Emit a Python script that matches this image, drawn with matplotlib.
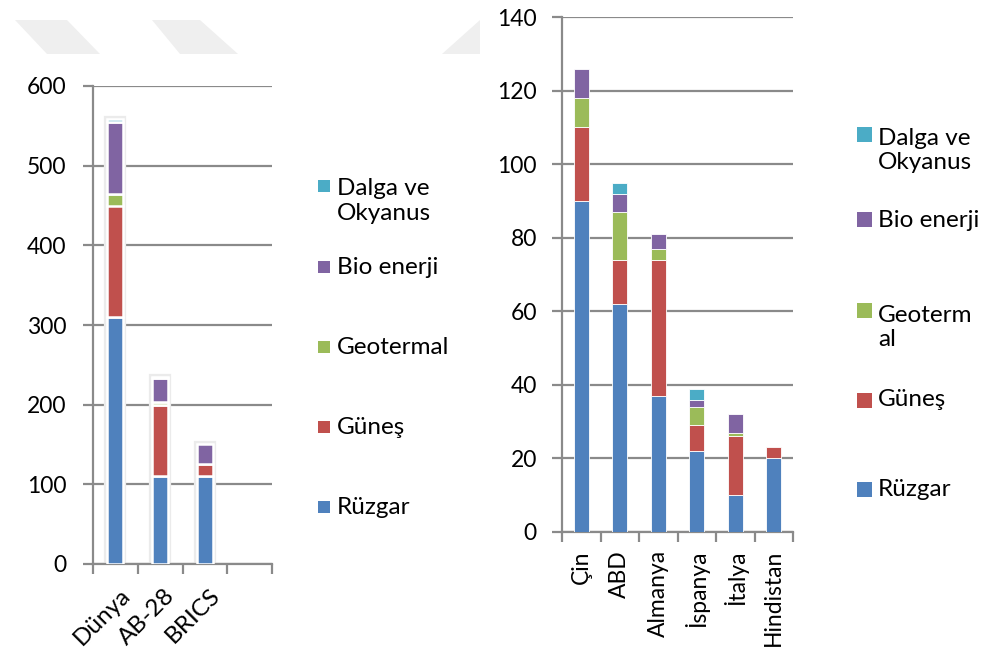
import numpy as np
import matplotlib
matplotlib.use("Agg")
import matplotlib.pyplot as plt
import matplotlib.transforms as mtransforms
from matplotlib.patches import Rectangle, Polygon

plt.rcParams['font.family'] = ['Lato', 'DejaVu Sans']

# Series (bottom to top of each stack)
series = ["Rüzgar", "Güneş", "Geotermal", "Bio enerji", "Dalga ve\nOkyanus"]
series_right = ["Rüzgar", "Güneş", "Geoterm\nal", "Bio enerji", "Dalga ve\nOkyanus"]
colors = ["#4F81BD", "#C0504D", "#9BBB59", "#8064A2", "#4BACC6"]

# Left panel: world / EU-28 / BRICS (fourth slot is empty)
regions = ["Dünya", "AB-28", "BRICS", ""]
ruzgar_r = [310, 110, 110, 0]
gunes_r = [140, 90, 15, 0]
geotermal_r = [15, 3, 0, 0]
bio_r = [90, 30, 26, 0]
dalga_r = [4, 2, 0, 0]

# Right panel: leading countries
countries = ["Çin", "ABD", "Almanya", "İspanya", "İtalya", "Hindistan"]
ruzgar_c = [90, 62, 37, 22, 10, 20]
gunes_c = [20, 12, 37, 7, 16, 3]
geotermal_c = [8, 13, 3, 5, 1, 0]
bio_c = [8, 5, 4, 2, 5, 0]
dalga_c = [0, 3, 0, 3, 0, 0]

W, H = 982, 654
fig = plt.figure(figsize=(W / 100, H / 100), dpi=100)


def fx(px):
    return px / W


def fy(py):
    return 1 - py / H


# faint background shapes in the upper left
for pts in ([(15, 20), (67, 20), (100, 54), (47, 54)],
            [(152, 20), (200, 20), (238, 54), (180, 54)],
            [(480, 20), (480, 54), (442, 54)]):
    fig.patches.append(Polygon([(fx(x), fy(y)) for x, y in pts], closed=True,
                               transform=fig.transFigure, facecolor="#efefef",
                               edgecolor="none", zorder=0))

grid_c = "#8a8a8a"


def style_axes(ax, n, tick_len, pad, fs):
    for s in ["top", "right"]:
        ax.spines[s].set_visible(False)
    for s in ["left", "bottom"]:
        ax.spines[s].set_color(grid_c)
        ax.spines[s].set_linewidth(1.6)
    ax.yaxis.grid(True, color=grid_c, linewidth=1.6)
    ax.set_axisbelow(True)
    ax.set_xlim(-0.5, n - 0.5)
    ax.set_xticks(np.arange(-0.5, n, 1.0), minor=True)
    ax.tick_params(axis="x", which="minor", length=tick_len, width=1.6, color=grid_c)
    ax.tick_params(axis="x", which="major", length=0)
    ax.tick_params(axis="y", length=tick_len, width=1.6, color=grid_c, pad=pad, labelsize=fs)


def stack(ax, cats, data, width, edge_w, halo=False):
    x = np.arange(len(cats))
    bottom = np.zeros(len(cats))
    for vals, col in zip(data, colors):
        lw = [edge_w if v > 0 else 0 for v in vals]
        ax.bar(x, vals, width, bottom=bottom, color=col, edgecolor="white",
               linewidth=lw, zorder=3)
        bottom += np.array(vals)
    if halo:
        # soft grey glow around each full stack
        ax.bar(x, bottom, width, color="white", edgecolor="#ebebeb",
               linewidth=[4.5 if t > 0 else 0 for t in bottom], zorder=2.5)


def legend(labels, x_sq, x_txt, ys, sq, spacing, fs):
    # entries listed top to bottom in reverse stacking order
    for lab, col, y in zip(labels[::-1], colors[::-1], ys):
        fig.patches.append(Rectangle((fx(x_sq), fy(y + sq / 2)), sq / W, sq / H,
                                     transform=fig.transFigure, facecolor=col,
                                     edgecolor="none"))
        n = lab.count("\n")
        fig.text(fx(x_txt), fy(y + n * spacing / 2), lab, fontsize=fs,
                 ha="left", va="center", linespacing=1.2)


# left panel
ax1 = fig.add_axes([fx(93), fy(564), fx(272) - fx(93), fy(86) - fy(564)])
stack(ax1, regions, [ruzgar_r, gunes_r, geotermal_r, bio_r, dalga_r], 0.36, 1.8, halo=True)
style_axes(ax1, len(regions), 7, 12, 16.5)
ax1.set_ylim(0, 600)
ax1.set_yticks(range(0, 601, 100))
ax1.set_xticks(range(len(regions)))
ax1.set_xticklabels(regions, rotation=45, ha="right", va="top",
                    rotation_mode="anchor", fontsize=17.5)
ax1.tick_params(axis="x", which="major", pad=15)
shift = mtransforms.ScaledTranslation(4 / 100, 0, fig.dpi_scale_trans)
for lbl in ax1.get_xticklabels():
    lbl.set_transform(lbl.get_transform() + shift)

# right panel
ax2 = fig.add_axes([fx(562), fy(532), fx(793) - fx(562), fy(17) - fy(532)])
stack(ax2, countries, [ruzgar_c, gunes_c, geotermal_c, bio_c, dalga_c], 0.4, 0.6)
style_axes(ax2, len(countries), 7, 11, 16.5)
ax2.set_ylim(0, 140)
ax2.set_yticks(range(0, 141, 20))
ax2.set_xticks(range(len(countries)))
ax2.set_xticklabels(countries, rotation=90, fontsize=16.5)
ax2.tick_params(axis="x", which="major", pad=13)

legend(series, 318, 337, [186, 267, 347, 427, 507], 12, 30, 17.5)
legend(series_right, 857, 878, [134, 220, 311, 400, 489], 15, 33, 17.5)

fig.savefig("out.png", dpi=100)
